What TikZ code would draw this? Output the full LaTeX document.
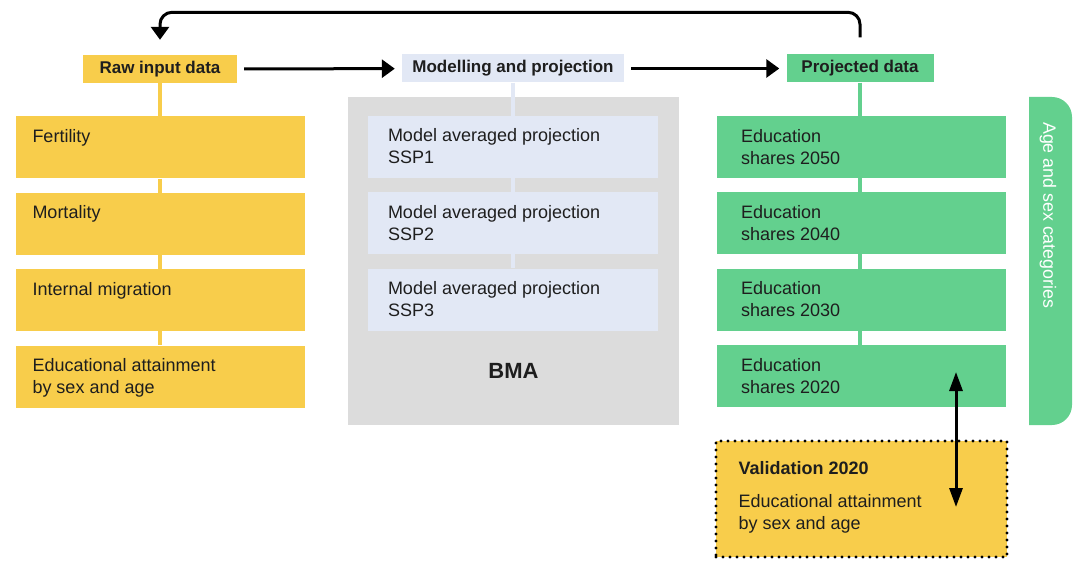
\documentclass[tikz,border=0pt]{standalone}
\usepackage{fontspec}
\setmainfont{Liberation Sans}
\usetikzlibrary{positioning, arrows.meta}

\definecolor{rawyellow}{HTML}{F8CD4B}
\definecolor{projgreen}{HTML}{63D08E}
\definecolor{modelblue}{HTML}{E2E8F5}
\definecolor{bmagray}{HTML}{DCDCDC}
\definecolor{inkdark}{HTML}{1E1E1E}

\tikzset{
  header/.style={minimum height=28pt, inner sep=0pt, text=inkdark,
    font=\bfseries\fontsize{17}{20}\selectfont},
  databox/.style={minimum width=289pt, minimum height=62pt, inner sep=0pt},
  boxtext/.style={anchor=north west, inner sep=0pt, align=left, text=inkdark,
    font=\fontsize{18}{22}\selectfont},
  stem/.style={line width=4pt},
  flow/.style={line width=3pt, -{Triangle[length=13pt,width=18pt]}},
}

\begin{document}
\begin{tikzpicture}[x=1pt, y=-1pt]
  \useasboundingbox (0,0) rectangle (1076,561);

  % column headers
  \node[header, fill=rawyellow, minimum width=154pt] (raw) at (160,69) {Raw input data};
  \node[header, fill=modelblue, minimum width=222pt] (model) at (513,68.5) {Modelling and projection};
  \node[header, fill=projgreen, minimum width=147pt] (proj) at (860,68.5) {Projected data};

  % raw inputs
  \node[databox, fill=rawyellow, below=33pt of raw,
    label={[boxtext, xshift=17pt, yshift=-13pt]north west:Fertility}] (fert) {};
  \node[databox, fill=rawyellow, below=14pt of fert,
    label={[boxtext, xshift=17pt, yshift=-13pt]north west:Mortality}] (mort) {};
  \node[databox, fill=rawyellow, below=14pt of mort,
    label={[boxtext, xshift=17pt, yshift=-13pt]north west:Internal migration}] (migr) {};
  \node[databox, fill=rawyellow, below=14pt of migr,
    label={[boxtext, xshift=17pt, yshift=-13pt]north west:{Educational attainment\\by sex and age}}] (attain) {};

  % BMA panel
  \node[fill=bmagray, minimum width=331pt, minimum height=328pt, inner sep=0pt,
    label={[anchor=center, yshift=54pt, text=inkdark,
      font=\bfseries\fontsize{22}{26}\selectfont]south:BMA}] (bma) at (513.5,261) {};
  \node[databox, fill=modelblue, minimum width=290pt, below=33pt of model,
    label={[boxtext, xshift=20pt, yshift=-13pt]north west:{Model averaged projection\\SSP1}}] (ssp1) {};
  \node[databox, fill=modelblue, minimum width=290pt, below=14pt of ssp1,
    label={[boxtext, xshift=20pt, yshift=-13pt]north west:{Model averaged projection\\SSP2}}] (ssp2) {};
  \node[databox, fill=modelblue, minimum width=290pt, below=14pt of ssp2,
    label={[boxtext, xshift=20pt, yshift=-13pt]north west:{Model averaged projection\\SSP3}}] (ssp3) {};

  % projected shares
  \node[databox, fill=projgreen] (e2050) at (861.5,147)
    [label={[boxtext, xshift=24pt, yshift=-13pt]north west:{Education\\shares 2050}}] {};
  \node[databox, fill=projgreen, below=14pt of e2050,
    label={[boxtext, xshift=24pt, yshift=-13pt]north west:{Education\\shares 2040}}] (e2040) {};
  \node[databox, fill=projgreen, below=14pt of e2040,
    label={[boxtext, xshift=24pt, yshift=-13pt]north west:{Education\\shares 2030}}] (e2030) {};
  \node[databox, fill=projgreen, below=14pt of e2030,
    label={[boxtext, xshift=24pt, yshift=-13pt]north west:{Education\\shares 2020}}] (e2020) {};

  % age and sex bar
  \fill[projgreen] (1029,97) -- (1052,97) arc[start angle=-90, end angle=0, radius=20]
    -- (1072,405) arc[start angle=0, end angle=90, radius=20] -- (1029,425) -- cycle;
  \node[rotate=-90, anchor=west, inner sep=0pt, text=white,
    font=\fontsize{17.8}{20}\selectfont] (cats) at (1048,122) {Age and sex categories};

  % validation data
  \node[databox, fill=rawyellow, minimum width=291pt, minimum height=116pt,
    draw=black, line width=3.4pt, line cap=round, dash pattern=on 0pt off 7pt,
    label={[boxtext, xshift=24pt, yshift=-22pt]north west:{\textbf{Validation 2020}\\[11pt]Educational attainment\\by sex and age}}]
    (valid) at (861.5,499) {};

  % stems
  \draw[stem, rawyellow] (raw) -- (fert) (fert) -- (mort) (mort) -- (migr) (migr) -- (attain);
  \draw[stem, modelblue] (model) -- (model |- ssp1.north)
    (ssp1) -- (ssp2) (ssp2) -- (ssp3);
  \draw[stem, projgreen] (proj) -- (proj |- e2050.north)
    (e2050 -| proj) ++(0,31) -- (proj |- e2040.north)
    (e2040 -| proj) ++(0,31) -- (proj |- e2030.north)
    (e2030 -| proj) ++(0,31) -- (proj |- e2020.north);

  % flow arrows
  \draw[flow, shorten <=7pt, shorten >=7pt] (raw) -- (model);
  \draw[flow, shorten <=7pt, shorten >=7pt] (model) -- (proj);
  \draw[flow, rounded corners=12pt, shorten <=17pt, shorten >=15pt]
    (proj.north) -- ++(0,-42) -| (raw.north);

  % comparison
  \coordinate (vtop) at (956,372);
  \coordinate (vbot) at (956,507);
  \draw[line width=3pt, {Triangle[length=19pt,width=13pt]}-{Triangle[length=19pt,width=13pt]}]
    (vtop) -- (vbot);
\end{tikzpicture}
\end{document}
